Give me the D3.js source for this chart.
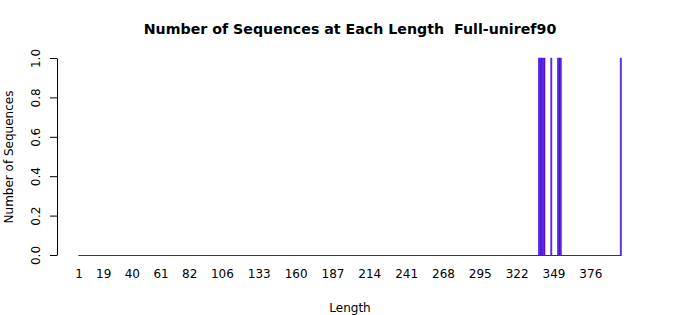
<!DOCTYPE html>
<html>
<head>
<meta charset="utf-8">
<script src="https://cdn.jsdelivr.net/npm/d3@7"></script>
<style>
  body { margin: 0; background: #fff; }
  text { font-family: "DejaVu Sans", sans-serif; }
</style>
</head>
<body>
<svg id="chart" width="700" height="315"></svg>
<script>
'use strict';

// sequence lengths 1..398, counts are zero except where listed
var lengths = d3.range(1, 399);
var hitLengths = [338, 339, 340, 341, 342, 347, 352, 353, 354, 398];
var hitCounts  = [1, 1, 1, 1, 1, 1, 1, 1, 1, 1];
var tickLabels = [1, 19, 40, 61, 82, 106, 133, 160, 187, 214, 241, 268, 295, 322, 349, 376];
var yTicks = [0, 0.2, 0.4, 0.6, 0.8, 1.0];

var countByLength = new Map();
hitLengths.forEach(function(l, i) { countByLength.set(l, hitCounts[i]); });
var bars = lengths.map(function(l) { return { len: l, n: countByLength.get(l) || 0 }; });

var svg = d3.select('#chart');

var x = d3.scaleBand()
    .domain(lengths)
    .range([78.6, 621.4])
    .paddingInner(0.1667)
    .paddingOuter(0);

var y = d3.scaleLinear()
    .domain([0, 1])
    .range([255.5, 58]);

// bars as paths so the empty ones still leave their border on the baseline
svg.append('g')
    .selectAll('path')
    .data(bars)
    .enter().append('path')
        .attr('d', function(d) {
            var x0 = x(d.len), x1 = x0 + x.bandwidth();
            return 'M' + x0 + ',' + y(0) + 'V' + y(d.n) + 'H' + x1 + 'V' + y(0) + 'Z';
        })
        .attr('fill', '#6a00c0')
        .attr('stroke', '#3a20f0')
        .attr('stroke-width', 0.6);

// baseline made by the empty bars' borders
svg.append('line')
    .attr('x1', x(lengths[0]))
    .attr('x2', x(lengths[lengths.length - 1]) + x.bandwidth())
    .attr('y1', y(0)).attr('y2', y(0))
    .attr('stroke', '#2020ff')
    .attr('stroke-width', 1);

// y axis, R style: rotated labels
var yAxis = svg.append('g')
    .attr('transform', 'translate(57,0)')
    .call(d3.axisLeft(y.copy().range([255, 58])).tickValues(yTicks).tickSize(7).tickSizeOuter(0)
        .tickFormat(d3.format('.1f')));
yAxis.select('.domain').attr('stroke', '#000');
yAxis.selectAll('.tick line').attr('stroke', '#000');
yAxis.selectAll('.tick text')
    .attr('font-size', 12)
    .attr('fill', '#000')
    .attr('text-anchor', 'middle')
    .attr('transform', 'translate(-21,0) rotate(-90)')
    .attr('x', 0)
    .attr('dy', '0.35em');

// x labels, no axis line
var xAxis = svg.append('g')
    .attr('transform', 'translate(0,262)')
    .call(d3.axisBottom(x).tickValues(tickLabels).tickSize(0));
xAxis.select('.domain').remove();
xAxis.selectAll('.tick text')
    .attr('font-size', 12)
    .attr('fill', '#000')
    .attr('dy', '1.05em');

svg.append('text')
    .attr('x', 350)
    .attr('y', 34)
    .attr('text-anchor', 'middle')
    .attr('font-size', 14.2)
    .attr('font-weight', 'bold')
    .style('white-space', 'pre')
    .text('Number of Sequences at Each Length  Full-uniref90');

svg.append('text')
    .attr('x', 350)
    .attr('y', 312)
    .attr('text-anchor', 'middle')
    .attr('font-size', 12)
    .text('Length');

svg.append('text')
    .attr('transform', 'translate(13,157) rotate(-90)')
    .attr('text-anchor', 'middle')
    .attr('font-size', 12)
    .text('Number of Sequences');
</script>
</body>
</html>
